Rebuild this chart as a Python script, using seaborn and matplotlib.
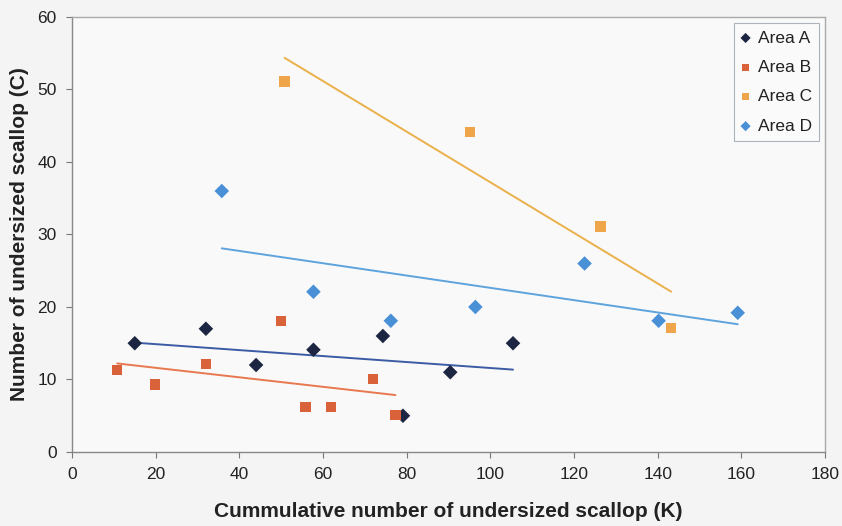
import numpy as np
import pandas as pd
import matplotlib
matplotlib.use("Agg")
import matplotlib.pyplot as plt
import seaborn as sns

# Cumulative undersized scallop (K) vs. number of undersized scallop (C)
area_a_k = [15.0, 32.0, 44.0, 57.7, 74.3, 79.1, 90.4, 105.4]
area_a_c = [15.0, 17.0, 12.0, 14.1, 16.0, 5.0, 11.0, 15.0]

area_b_k = [10.8, 19.8, 32.0, 49.9, 55.8, 61.9, 71.9, 77.3]
area_b_c = [11.3, 9.3, 12.1, 18.1, 6.25, 6.25, 10.1, 5.1]

area_c_k = [50.8, 95.1, 126.3, 143.2]
area_c_c = [51.1, 44.1, 31.1, 17.1]

area_d_k = [35.8, 57.7, 76.2, 96.4, 122.5, 140.2, 159.1]
area_d_c = [36.0, 22.1, 18.1, 20.0, 26.0, 18.1, 19.2]

areas = ["Area A", "Area B", "Area C", "Area D"]
x_ticks = [0, 20, 40, 60, 80, 100, 120, 140, 160, 180]
y_ticks = [0, 10, 20, 30, 40, 50, 60]

series = {
    "Area A": (area_a_k, area_a_c),
    "Area B": (area_b_k, area_b_c),
    "Area C": (area_c_k, area_c_c),
    "Area D": (area_d_k, area_d_c),
}
df = pd.concat(
    [pd.DataFrame({"K": k, "C": c, "Area": name}) for name, (k, c) in series.items()],
    ignore_index=True,
)

marker_colors = {"Area A": "#1c2541", "Area B": "#d9623b", "Area C": "#efa64a", "Area D": "#4a90d6"}
line_colors = {"Area A": "#3b5ba5", "Area B": "#e8784f", "Area C": "#eab04a", "Area D": "#5ea3dc"}
markers = {"Area A": "D", "Area B": "s", "Area C": "s", "Area D": "D"}
sizes = {"Area A": 55, "Area B": 55, "Area C": 55, "Area D": 55}

sns.set_theme(style="white")
plt.rcParams["font.family"] = ["Liberation Sans", "DejaVu Sans"]

fig = plt.figure(figsize=(8.42, 5.26), dpi=100, facecolor="#f4f4f4")
ax = fig.add_axes([0.0855, 0.1407, 0.8945, 0.827])
ax.set_facecolor("#f9f9f9")

# Linear trend line for each area, spanning its data range
for name in areas:
    sub = df[df["Area"] == name]
    sns.regplot(data=sub, x="K", y="C", ax=ax, scatter=False, ci=None,
                truncate=True, color=line_colors[name],
                line_kws={"linewidth": 1.4, "zorder": 2})

for name in areas:
    sub = df[df["Area"] == name]
    sns.scatterplot(data=sub, x="K", y="C", ax=ax, marker=markers[name],
                    s=sizes[name], color=marker_colors[name], edgecolor="none",
                    label=name, zorder=3)

ax.set_xlim(0, 180)
ax.set_ylim(0, 60)
ax.set_xticks(x_ticks)
ax.set_yticks(y_ticks)
ax.tick_params(axis="both", which="major", direction="out", length=4, width=0.8,
               color="#777777", labelsize=12.5, labelcolor="#222222", pad=7,
               bottom=True, left=True)

for side in ["left", "bottom"]:
    ax.spines[side].set_color("#888888")
    ax.spines[side].set_linewidth(1.0)
for side in ["top", "right"]:
    ax.spines[side].set_color("#aaaaaa")
    ax.spines[side].set_linewidth(1.0)

ax.set_xlabel("Cummulative number of undersized scallop (K)", fontsize=15,
              fontweight="bold", color="#222222", labelpad=14)
ax.set_ylabel("Number of undersized scallop (C)", fontsize=15,
              fontweight="bold", color="#222222", labelpad=6)

leg = ax.legend(loc="upper right", bbox_to_anchor=(0.992, 0.986), frameon=True,
                fancybox=False, fontsize=12.5, handletextpad=0.45,
                handlelength=0.5, borderpad=0.42, labelspacing=0.82,
                markerscale=0.7, borderaxespad=0.0)
leg.get_frame().set_edgecolor("#9a9fb0")
leg.get_frame().set_linewidth(0.8)
leg.get_frame().set_facecolor("#fbfbfb")
for t in leg.get_texts():
    t.set_color("#222222")

fig.savefig("out.png", dpi=100, facecolor=fig.get_facecolor())
